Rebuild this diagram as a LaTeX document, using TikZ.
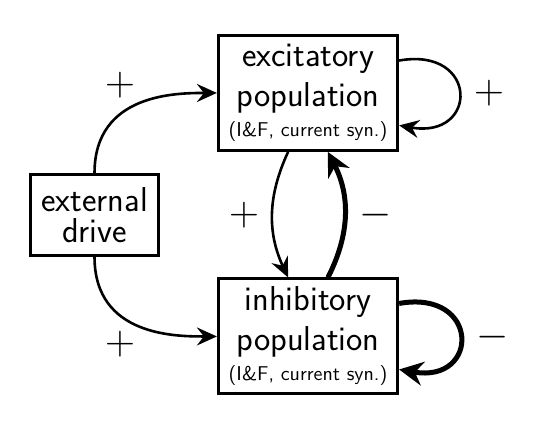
\documentclass[tikz,border=0pt]{standalone}
\usepackage{tikz}
\usetikzlibrary{arrows.meta, positioning, calc}
\tikzset{
    popblock/.style={
        rectangle,
        draw=black,
        line width=1.5pt,
        fill=white,
        minimum width=3.15cm,
        minimum height=2.02cm,
        inner sep=2pt,
        align=center,
        font=\LARGE\sffamily
    },
    driveblock/.style={
        rectangle,
        draw=black,
        line width=1.5pt,
        fill=white,
        minimum width=2.25cm,
        minimum height=1.42cm,
        inner sep=2pt,
        align=center,
        font=\LARGE\sffamily
    },
    arrow/.style={
        -{Stealth[length=10pt,width=9pt,inset=3.5pt]},
        line width=1.3pt
    },
    thickarrow/.style={
        -{Stealth[length=12pt,width=12pt,inset=4pt]},
        line width=2.5pt
    },
    sign/.style={
        font=\huge
    }
}

\begin{document}
\begin{tikzpicture}

    \useasboundingbox (-1.661,-3.761) rectangle (7.706,3.778);

    % External drive
    \node[driveblock] (drive) at (0, 0) {external\\[-6.5pt]drive};

    % Populations
    \node[popblock] (exc) at (3.752, 2.144) {excitatory\\[-2pt]population\\[-7pt]{\normalsize (I\&F, current syn.)}};
    \node[popblock] (inh) at (3.752, -2.135) {inhibitory\\[-2pt]population\\[-7pt]{\normalsize (I\&F, current syn.)}};

    % Drive arrows
    \draw[arrow] (drive.north) to[out=90,in=180,out looseness=1.4,in looseness=0.7] (exc.west);
    \draw[arrow] (drive.south) to[out=-90,in=180,out looseness=1.4,in looseness=0.7] (inh.west);

    % Between populations
    \draw[arrow] ([xshift=-0.35cm]exc.south) to[bend right=25] ([xshift=-0.35cm]inh.north);
    \draw[thickarrow] ([xshift=0.35cm]inh.north) to[bend right=27] ([xshift=0.35cm]exc.south);

    % Recurrent loops
    \draw[arrow] ([yshift=0.57cm]exc.east) to[out=10,in=-10,looseness=3.2] ([yshift=-0.57cm]exc.east);
    \draw[thickarrow] ([yshift=0.58cm]inh.east) to[out=10,in=-10,looseness=3.2] ([yshift=-0.58cm]inh.east);

    % Signs
    \node[sign] (s1) at (0.448, 2.285) {$+$};
    \node[sign] (s2) at (0.448, -2.267) {$+$};
    \node[sign] (s3) at (2.627, 0) {$+$};
    \node[sign] (s4) at (4.947, 0) {$-$};
    \node[sign] (s5) at (6.933, 2.144) {$+$};
    \node[sign] (s6) at (7.003, -2.144) {$-$};

\end{tikzpicture}
\end{document}
